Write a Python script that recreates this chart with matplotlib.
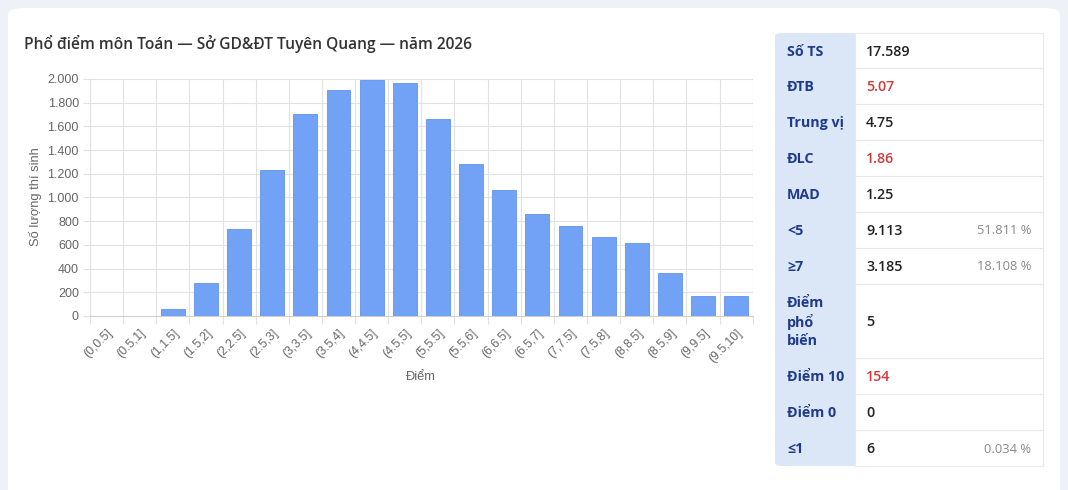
import matplotlib
matplotlib.use('Agg')
import matplotlib.pyplot as plt
from matplotlib.patches import FancyBboxPatch, Rectangle
from matplotlib.ticker import FuncFormatter
import numpy as np

# dữ liệu phổ điểm
bins = ['(0,0.5]', '(0.5,1]', '(1,1.5]', '(1.5,2]', '(2,2.5]', '(2.5,3]', '(3,3.5]',
        '(3.5,4]', '(4,4.5]', '(4.5,5]', '(5,5.5]', '(5.5,6]', '(6,6.5]', '(6.5,7]',
        '(7,7.5]', '(7.5,8]', '(8,8.5]', '(8.5,9]', '(9,9.5]', '(9.5,10]']
counts = [2, 4, 56, 276, 735, 1234, 1707, 1910, 1992, 1966,
          1662, 1285, 1065, 862, 763, 668, 617, 366, 166, 172]

# bảng thống kê
stat_labels = ['Số TS', 'ĐTB', 'Trung vị', 'ĐLC', 'MAD', '<5', '≥7',
               'Điểm\nphổ\nbiến', 'Điểm 10', 'Điểm 0', '≤1']
stat_values = ['17.589', '5.07', '4.75', '1.86', '1.25', '9.113', '3.185',
               '5', '154', '0', '6']
stat_pcts = ['', '', '', '', '', '51.811 %', '18.108 %', '', '', '', '0.034 %']
stat_red = [False, True, False, True, False, False, False, False, True, False, False]

W, H = 1068, 490

def fx(x):
    return x / W

def fy(y):
    return 1 - y / H

fig = plt.figure(figsize=(W / 100, H / 100), dpi=100)
fig.patch.set_facecolor('#eef2f6')

# thẻ trắng
card = FancyBboxPatch((fx(8), fy(520)), fx(1052), (520 - 8) / H,
                      boxstyle='round,pad=0,rounding_size=0.015',
                      transform=fig.transFigure, facecolor='white',
                      edgecolor='none', zorder=-5)
fig.patches.append(card)

fig.text(fx(24), fy(44), 'Phổ điểm môn Toán — Sở GD&ĐT Tuyên Quang — năm 2026',
         fontsize=11.2, fontweight='semibold', color='#333333',
         family='Open Sans', va='center', ha='left')

# biểu đồ cột
ax = fig.add_axes([fx(90), fy(316), fx(752.7 - 90), (316 - 79) / H])
ax.set_facecolor('none')
x = np.arange(len(bins))
ax.bar(x, counts, width=0.72, color='#72a2f6', edgecolor='#6193ee',
       linewidth=0.6, zorder=3)
ax.set_xlim(-0.5, len(bins) - 0.5)
ax.set_ylim(0, 2000)
ax.set_yticks(np.arange(0, 2001, 200))
ax.yaxis.set_major_formatter(FuncFormatter(lambda v, p: f'{int(v):,}'.replace(',', '.')))
ax.set_xticks(x)
ax.set_xticklabels(bins, rotation=45, ha='right', rotation_mode='anchor')
ax.set_xticks(np.arange(-0.5, len(bins)), minor=True)

grid_c = '#e2e2e2'
ax.grid(True, axis='y', which='major', color=grid_c, linewidth=0.8, zorder=0)
ax.grid(True, axis='x', which='minor', color=grid_c, linewidth=0.8, zorder=0)
ax.tick_params(axis='x', which='major', length=0, pad=8, labelsize=8.7, labelcolor='#666666')
ax.tick_params(axis='x', which='minor', length=6, color=grid_c, width=0.8)
ax.tick_params(axis='y', length=5, color=grid_c, width=0.8, labelsize=9,
               labelcolor='#666666', pad=3)
for lbl in ax.get_xticklabels() + ax.get_yticklabels():
    lbl.set_family('Liberation Sans')
for s in ['top', 'right']:
    ax.spines[s].set_visible(False)
ax.spines['left'].set_color(grid_c)
ax.spines['bottom'].set_color('#cfcfcf')

fig.text(fx(421), fy(377), 'Điểm', fontsize=9.3, color='#666666',
         family='Liberation Sans', ha='center', va='center')
fig.text(fx(35), fy(197), 'Số lượng thí sinh', fontsize=9.3, color='#666666',
         family='Liberation Sans', ha='center', va='center', rotation=90)

# bảng bên phải
row_h = [35, 36, 36, 36, 36, 36, 36, 74, 36, 36, 36]
top, left, mid, right = 33, 775, 855, 1043
bottom = top + sum(row_h)

bg = FancyBboxPatch((fx(left), fy(bottom)), fx(mid - left), (bottom - top) / H,
                    boxstyle='round,pad=0,rounding_size=0.006',
                    transform=fig.transFigure, facecolor='#dbe7f6',
                    edgecolor='none', zorder=1)
fig.patches.append(bg)
fig.patches.append(Rectangle((fx(mid - 8), fy(bottom)), fx(8), (bottom - top) / H,
                             transform=fig.transFigure, facecolor='#dbe7f6',
                             edgecolor='none', zorder=1))
fig.patches.append(Rectangle((fx(mid), fy(bottom)), fx(right - mid), (bottom - top) / H,
                             transform=fig.transFigure, facecolor='white',
                             edgecolor='#e6e8ec', linewidth=0.8, zorder=1))

y = top
for i, lab in enumerate(stat_labels):
    yc = y + row_h[i] / 2
    if i > 0:
        fig.lines.append(plt.Line2D([fx(mid), fx(right)], [fy(y), fy(y)],
                                    transform=fig.transFigure, color='#e6e8ec',
                                    linewidth=0.8, zorder=2))
    fig.text(fx(787), fy(yc + 1), lab, fontsize=10.3, fontweight='bold', color='#1f3a8a',
             family=['Open Sans', 'DejaVu Sans'], ha='left', va='center',
             linespacing=1.35)
    fig.text(fx(866), fy(yc + 1), stat_values[i], fontsize=10.3,
             color='#d03a3a' if stat_red[i] else '#222222',
             fontweight='semibold',
             family='Open Sans', ha='left', va='center')
    if stat_pcts[i]:
        fig.text(fx(1031), fy(yc + 1), stat_pcts[i], fontsize=9.3, color='#888888',
                 family='Open Sans', ha='right', va='center')
    y += row_h[i]

fig.savefig('out.png', dpi=100, facecolor=fig.get_facecolor())
